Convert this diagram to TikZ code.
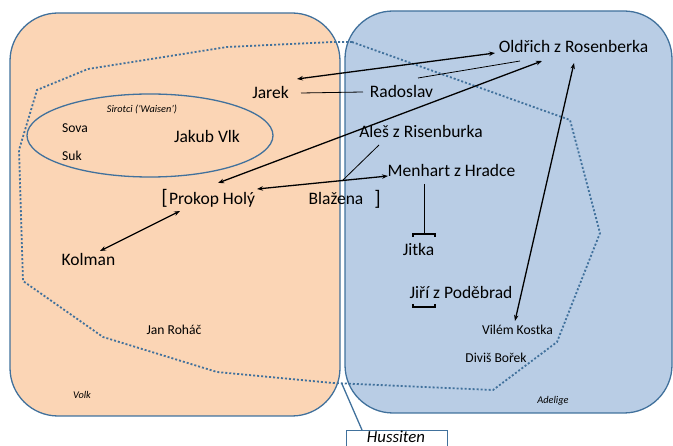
\documentclass[tikz,border=0pt]{standalone}
\usepackage{fontspec}
\setmainfont{Carlito}
\usetikzlibrary{arrows.meta}

\definecolor{volkfill}{HTML}{FBD5B5}
\definecolor{adelfill}{HTML}{B9CDE5}
\definecolor{edgeblue}{HTML}{41719C}

\tikzset{
  lbl/.style={inner sep=0pt, anchor=base},
  big/.style={lbl, font=\fontsize{17.5}{20}\selectfont},
  small/.style={lbl, font=\fontsize{13.6}{16}\selectfont},
  note/.style={lbl, font=\fontsize{10.3}{12}\selectfont\itshape},
  brk/.style={lbl, font=\fontsize{21}{24}\selectfont},
  group/.style={draw=edgeblue, line width=1.3pt, rounded corners=48pt},
  link/.style={line width=1.3pt, {Stealth[length=6pt,width=4.5pt]}-{Stealth[length=6pt,width=4.5pt]}},
  tie/.style={line width=0.8pt},
  rim/.style={draw=edgeblue, line width=1.8pt, dash pattern=on 2pt off 2pt},
}

\begin{document}
\begin{tikzpicture}[x=1pt,y=-1pt]
\useasboundingbox (0,0) rectangle (673,446);

% the two estates
\path[group, fill=volkfill] (10,13) rectangle (340,416);
\path[group, fill=adelfill] (345,11) rectangle (672,413);

% the Hussite movement across both
\draw[rim] (352,42) -- (570,120) -- (600,233) -- (557,342) -- (493,390)
  -- (333,383) -- (217,372) -- (103,337) -- (23,281) -- (19,150)
  -- (37,90) -- (88,69) -- (227,47) -- (333,42) -- cycle;

% the Orphans
\draw[edgeblue, line width=1.3pt] (150,135.5) ellipse [x radius=123pt, y radius=41.5pt];

% people
\node[big] (oldrich) at (573.5,52.6) {Oldřich z Rosenberka};
\node[big] (jarek) at (270.5,98.6) {Jarek};
\node[big] (radoslav) at (401.5,97.6) {Radoslav};
\node[big] (ales) at (421,137.6) {Aleš z Risenburka};
\node[big] (menhart) at (451.5,176.6) {Menhart z Hradce};
\node[big] (blazena) at (336,204.4) {Blažena};
\node[big] (prokop) at (212,204.2) {Prokop Holý};
\node[brk] (lbr) at (164.5,204.5) {[};
\node[brk] (rbr) at (377.5,205.5) {]};
\node[big] (jakub) at (207,142.6) {Jakub Vlk};
\node[big] (kolman) at (88.5,266) {Kolman};
\node[big] (jitka) at (418.5,255.2) {Jitka};
\node[big] (jiri) at (461,298.8) {Jiří z Poděbrad};
\node[small] (sova) at (75,132.6) {Sova};
\node[small] (suk) at (72,160.8) {Suk};
\node[small] (rohac) at (174,335) {Jan Roháč};
\node[small] (kostka) at (517.5,334.4) {Vilém Kostka};
\node[small] (borek) at (496,362.6) {Diviš Bořek};
\node[note] (sirotci) at (142,112.6) {Sirotci (’Waisen’)};
\node[note] (volk) at (82,398.6) {Volk};
\node[note] (adelige) at (553,403.4) {Adelige};

% connector end points
\coordinate (jarekTip) at (297,79);
\coordinate (oldTipA) at (495,53);
\coordinate (radTail) at (418,78);
\coordinate (oldTipB) at (520,61);
\coordinate (jarekR) at (301,93);
\coordinate (radL) at (363,92);
\coordinate (prokTipA) at (218,183);
\coordinate (oldTipC) at (542,61);
\coordinate (prokTipB) at (257,189);
\coordinate (menTip) at (388,176);
\coordinate (alesTail) at (379,145);
\coordinate (alesEnd) at (342,181);
\coordinate (prokTipC) at (180,211);
\coordinate (kolTip) at (100,251);
\coordinate (oldTipD) at (574,63);
\coordinate (kostkaTip) at (515,321);
\coordinate (menBot) at (424,184);
\coordinate (jitkaCap) at (424,234);

% relations
\draw[link] (jarekTip) -- (oldTipA);
\draw[tie] (radTail) -- (oldTipB);
\draw[tie] (jarekR) -- (radL);
\draw[link] (prokTipA) -- (oldTipC);
\draw[link] (prokTipB) -- (menTip);
\draw[tie] (alesTail) -- (alesEnd);
\draw[link] (prokTipC) -- (kolTip);
\draw[link] (oldTipD) -- (kostkaTip);

% marriage ties under Menhart and Jiří
\draw[tie] (menBot) -- (jitkaCap);
\draw[line width=1.3pt] (413,237) -- (413,234) -- (435,234) -- (435,237);
\draw[line width=1.3pt] (413,304) -- (413,307) -- (435,307) -- (435,304);

% caption box
\node[draw=edgeblue, line width=1.3pt, fill=white, minimum width=101pt,
      minimum height=30pt, inner sep=0pt, anchor=north west] (husbox) at (346,430) {};
\node[lbl, font=\fontsize{16.8}{20}\selectfont\itshape] (hussiten) at (396,442.3) {Hussiten};
\coordinate (gap) at (342,384);
\draw[edgeblue, line width=1.3pt] (husbox.north west) ++(16pt,0) -- (gap);
\end{tikzpicture}
\end{document}
